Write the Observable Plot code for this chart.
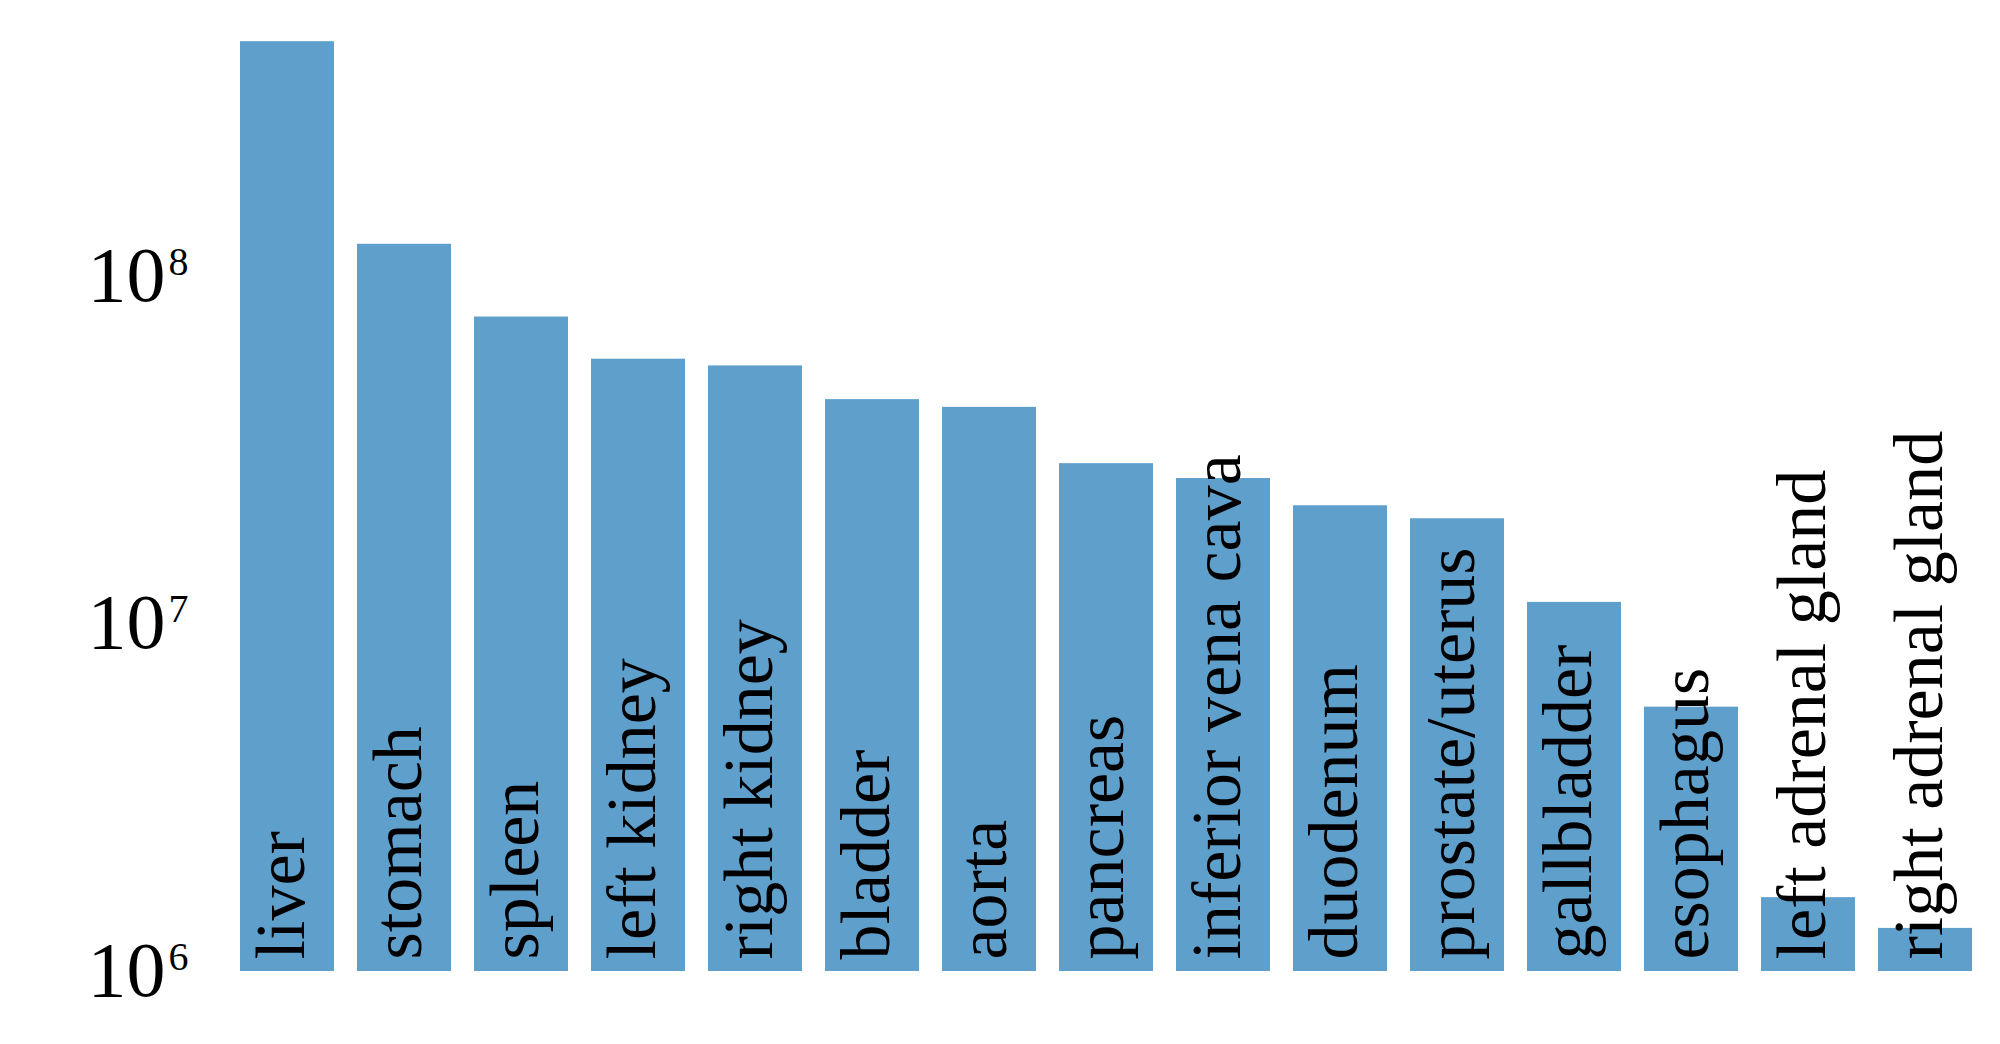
<!DOCTYPE html>
<html>
<head>
<meta charset="utf-8">
<script src="https://cdn.jsdelivr.net/npm/d3@7"></script>
<script src="https://cdn.jsdelivr.net/npm/@observablehq/plot@0.6"></script>
<style>
  html, body { margin: 0; padding: 0; background: #ffffff; }
  #chart svg { display: block; }
</style>
</head>
<body>
<div id="chart"></div>
<script>
// Organs (categories), in display order
const organs = [
  "liver", "stomach", "spleen", "left kidney", "right kidney", "bladder", "aorta",
  "pancreas", "inferior vena cava", "duodenum", "prostate/uterus", "gallbladder",
  "esophagus", "left adrenal gland", "right adrenal gland"
];
// Values (log scale)
const values = [
  4.7e8, 1.23e8, 7.6e7, 5.75e7, 5.5e7, 4.4e7, 4.18e7,
  2.88e7, 2.61e7, 2.18e7, 2.0e7, 1.15e7,
  5.75e6, 1.63e6, 1.33e6
];
// Y tick values and their labels
const yTicks = [1e6, 1e7, 1e8];
const yTickLabels = ["10\u2076", "10\u2077", "10\u2078"];
const yTickExponents = ["6", "7", "8"];
const baseline = 1e6;

const data = organs.map((organ, i) => ({organ, value: values[i]}));

const serif = "'Liberation Serif', 'Times New Roman', 'DejaVu Serif', serif";

const chart = Plot.plot({
  width: 2000,
  height: 1044,
  marginLeft: 228,
  marginRight: 16,
  marginTop: 20,
  marginBottom: 73,
  style: {fontFamily: serif, background: "#ffffff", color: "#000000"},
  x: {type: "band", domain: organs, paddingInner: 0.2, paddingOuter: 0.1, axis: null},
  y: {type: "log", domain: [1e6, Math.pow(10, 8.733)], axis: null},
  marks: [
    Plot.barY(data, {x: "organ", y1: () => baseline, y2: "value", fill: "#5f9fcb"}),
    Plot.text(data, {
      x: "organ", y: () => baseline, text: "organ",
      rotate: -90, textAnchor: "start", lineAnchor: "bottom",
      dx: 16, dy: -12, fontSize: 70, fontFamily: serif, fill: "#000000"
    }),
    Plot.axisY({
      ticks: yTicks,
      tickFormat: (d) => yTickLabels[yTicks.indexOf(d)],
      tickSize: 0,
      tickPadding: 40,
      label: null,
      fontSize: 78,
      fontFamily: serif,
      fill: "#000000"
    })
  ]
});

// Render tick labels as "10" with a raised superscript exponent
try {
  const texts = chart.querySelectorAll('g[aria-label="y-axis tick label"] text');
  texts.forEach((t) => {
    const s = t.textContent;
    const idx = yTickLabels.indexOf(s);
    if (idx < 0) return;
    t.textContent = "";
    const ns = "http://www.w3.org/2000/svg";
    const base = document.createElementNS(ns, "tspan");
    base.textContent = "10";
    const sup = document.createElementNS(ns, "tspan");
    sup.textContent = yTickExponents[idx];
    sup.setAttribute("font-size", "40");
    sup.setAttribute("dy", "-26");
    sup.setAttribute("dx", "3");
    t.appendChild(base);
    t.appendChild(sup);
  });
} catch (e) { console.error(e); }

document.getElementById("chart").appendChild(chart);
</script>
</body>
</html>
